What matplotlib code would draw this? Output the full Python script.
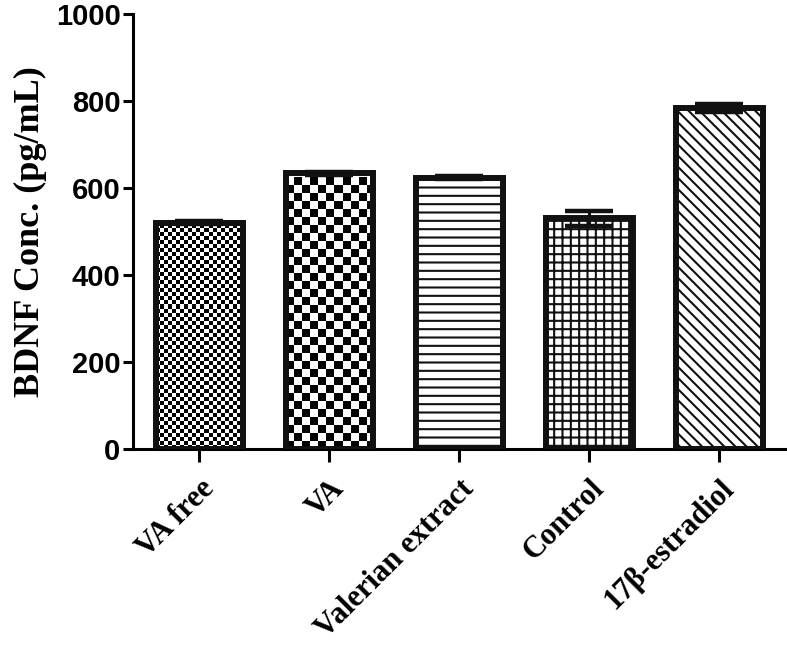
import matplotlib
matplotlib.use("Agg")
import matplotlib.pyplot as plt
import numpy as np

# Values
GROUPS = ["VA free", "VA", "Valerian extract", "Control", "17\u03b2-estradiol"]
MEANS = [520, 634, 624, 530, 783]
ERRORS = [3, 3, 4, 17, 9]
HATCHES = [None, None, "--", "++", "\\\\\\"]
CHECKER_PX = [4, 8, None, None, None]   # checkerboard cell size in pixels

plt.rcParams["hatch.linewidth"] = 1.5

W, H, DPI = 787, 650, 100
fig = plt.figure(figsize=(W / DPI, H / DPI), dpi=DPI)
ax = fig.add_axes([133 / W, (H - 449) / H, (W - 133) / W, (449 - 14) / H])

x = np.arange(len(GROUPS))
XLIM = (-0.51, 4.52)
YLIM = (0, 1000)
width = 0.67
bars = ax.bar(x, MEANS, width, facecolor="white", edgecolor="#111111",
              linewidth=4.3, zorder=3)
for b, h in zip(bars, HATCHES):
    if h:
        b.set_hatch(h)

# checkerboard fills (no built-in hatch for this)
px_x = (XLIM[1] - XLIM[0]) / (W - 133)
px_y = (YLIM[1] - YLIM[0]) / (449 - 14)
for b, xi, m, cell in zip(bars, x, MEANS, CHECKER_PX):
    if cell is None:
        continue
    b.set_facecolor("none")
    x0, x1 = xi - width / 2, xi + width / 2
    nx = int(round((x1 - x0) / px_x / cell))
    ny = int(round(m / px_y / cell))
    board = (np.add.outer(np.arange(ny), np.arange(nx)) % 2).astype(float)
    im = ax.imshow(board, extent=(x0, x0 + nx * cell * px_x, 0, ny * cell * px_y),
                   cmap="gray", vmin=0, vmax=1, interpolation="nearest",
                   aspect="auto", origin="lower", zorder=2)
    im.set_clip_path(b)

ax.errorbar(x, MEANS, yerr=ERRORS, fmt="none", ecolor="#111111",
            elinewidth=2.2, capsize=17, capthick=3.2, zorder=4)

ax.set_xlim(*XLIM)
ax.set_ylim(*YLIM)
ax.spines["top"].set_visible(False)
ax.spines["right"].set_visible(False)
ax.spines["left"].set_linewidth(2.2)
ax.spines["bottom"].set_linewidth(2.2)
ax.spines["left"].set_zorder(5)

ax.set_yticks(np.arange(0, 1001, 200))
ax.set_yticklabels([str(v) for v in range(0, 1001, 200)],
                   fontfamily="Liberation Sans", fontweight="bold", fontsize=21)
ax.tick_params(axis="y", length=7, width=2.2, pad=2)
ax.tick_params(axis="x", length=9, width=2.2, pad=9)
ax.set_xticks(x)
ax.set_xticklabels(GROUPS, rotation=45, ha="right", va="top",
                   rotation_mode="anchor", fontfamily="Liberation Serif",
                   fontweight="bold", fontsize=22)

ax.set_ylabel("BDNF Conc. (pg/mL)", fontfamily="Liberation Serif",
              fontweight="bold", fontsize=26, labelpad=6)

fig.savefig("out.png", dpi=DPI)
